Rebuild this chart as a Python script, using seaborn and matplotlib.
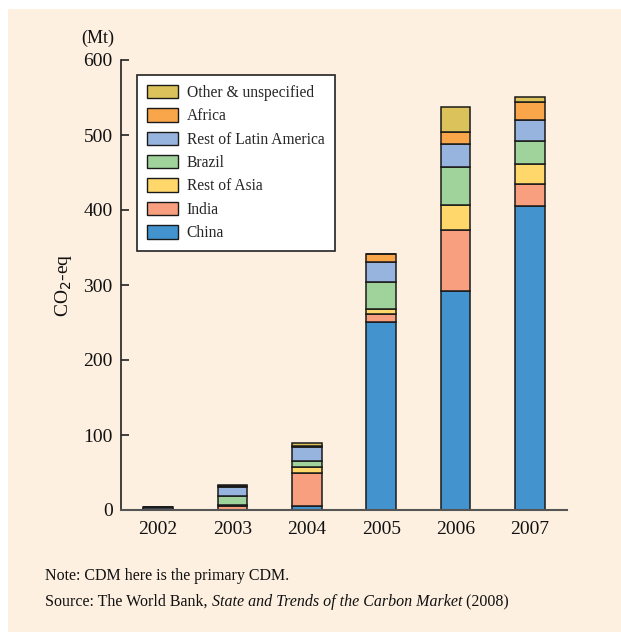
import matplotlib
matplotlib.use("Agg")
import matplotlib.pyplot as plt
from matplotlib.patches import Patch, Rectangle
import seaborn as sns
import pandas as pd

# Datos (Mt CO2-eq)
years = [2002, 2003, 2004, 2005, 2006, 2007]
china = [0, 0, 5, 251, 292, 405]
india = [0.5, 6, 45, 10, 81, 30]
rest_asia = [0, 1, 7, 7, 34, 26]
brazil = [1.5, 12, 9, 36, 51, 31]
latam = [2, 12, 18, 27, 30, 28]
africa = [0, 1, 2, 10, 16, 24]
other = [0.5, 2, 4, 0, 34, 7]

regions = ["Other & unspecified", "Africa", "Rest of Latin America",
           "Brazil", "Rest of Asia", "India", "China"]
series = [other, africa, latam, brazil, rest_asia, india, china]
colors = ["#DCC25A", "#F9A54A", "#97B4DF", "#9FD39B", "#FFD76A", "#F79F7E", "#4393CF"]

bg = "#FDF0E1"
font = "Liberation Serif"

# Tabla larga para seaborn
rows = []
for region, vals in zip(regions, series):
    for y, v in zip(years, vals):
        rows.append({"year": y, "region": region, "value": v})
df = pd.DataFrame(rows)

sns.set_theme(style="white")
plt.rcParams["font.family"] = [font, "DejaVu Serif"]

fig = plt.figure(figsize=(6.21, 6.32), dpi=100, facecolor=bg)
# franja blanca arriba y a la izquierda
fig.patches.append(Rectangle((0, 0), 8 / 621, 1, transform=fig.transFigure,
                             facecolor="white", edgecolor="none", zorder=-10))
fig.patches.append(Rectangle((0, 1 - 9 / 632), 1, 9 / 632, transform=fig.transFigure,
                             facecolor="white", edgecolor="none", zorder=-10))
ax = fig.add_axes([121 / 621, 1 - 510 / 632, 446 / 621, 450 / 632])
ax.set_facecolor("none")

# Barras apiladas
sns.histplot(data=df, x="year", weights="value", hue="region", hue_order=regions,
             multiple="stack", discrete=True, shrink=0.4, palette=colors,
             alpha=1, edgecolor="#1a1a1a", linewidth=1.1, legend=False, ax=ax)

ax.set_xlim(2001.5, 2007.5)
ax.set_ylim(0, 600)
ax.set_xticks(years)
ax.set_xticklabels([str(y) for y in years])
ax.set_xticks([y + 0.5 for y in [2001] + years], minor=True)
ax.set_yticks(range(0, 601, 100))
ax.tick_params(axis="x", which="major", length=0, pad=8, labelsize=14, colors="#111")
ax.tick_params(axis="x", which="minor", direction="in", length=6, width=1.2, color="#222")
ax.tick_params(axis="y", direction="in", length=6, width=1.2, pad=6, labelsize=14,
               left=True, color="#222", labelcolor="#111")
ax.set_xlabel("")
ax.set_ylabel("")
for s in ["top", "right"]:
    ax.spines[s].set_visible(False)
ax.spines["left"].set_color("#222")
ax.spines["left"].set_linewidth(1.2)
ax.spines["bottom"].set_color("#555")
ax.spines["bottom"].set_linewidth(1.5)

# Leyenda
handles = [Patch(facecolor=c, edgecolor="#1a1a1a", linewidth=1) for c in colors]
leg = ax.legend(handles, regions, loc="upper left", bbox_to_anchor=(0.036, 0.967),
                fontsize=11.2, frameon=True, fancybox=False, framealpha=1,
                edgecolor="#222", handlelength=2.0, handleheight=0.95,
                handletextpad=0.55, labelspacing=0.47, borderpad=0.65, borderaxespad=0)
leg.get_frame().set_linewidth(1.2)

fig.text(98 / 621, 1 - 38 / 632, "(Mt)", ha="center", va="center", fontsize=13, color="#111")
fig.text(63 / 621, 1 - 285 / 632, "CO$_2$-eq", rotation=90, ha="center", va="center",
         fontsize=14, color="#111")

# Notas
fig.text(45 / 621, 1 - 580 / 632, "Note: CDM here is the primary CDM.",
         fontsize=11.5, va="baseline", color="#111")
t1 = fig.text(45 / 621, 1 - 606 / 632, "Source: The World Bank, ",
              fontsize=11.5, va="baseline", color="#111")
t2 = fig.text(0, 0, "State and Trends of the Carbon Market", fontsize=11.5,
              style="italic", va="baseline", color="#111")
fig.canvas.draw()
r = fig.canvas.get_renderer()
bb = t1.get_window_extent(r).transformed(fig.transFigure.inverted())
t2.set_position((bb.x1, 1 - 606 / 632))
bb2 = t2.get_window_extent(r).transformed(fig.transFigure.inverted())
fig.text(bb2.x1, 1 - 606 / 632, " (2008)", fontsize=11.5, va="baseline", color="#111")

fig.savefig("out.png", dpi=100, facecolor=fig.get_facecolor())
